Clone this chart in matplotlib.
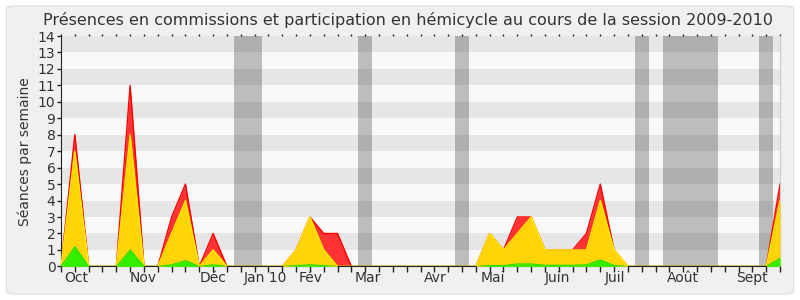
import matplotlib
matplotlib.use("Agg")
import matplotlib.pyplot as plt
from matplotlib.patches import FancyBboxPatch
import numpy as np

# Weekly values, session 2009-2010 (week 0 = start of October)
weeks = list(range(53))

# top of each stacked layer
red_top = [0, 8, 0, 0, 0, 11, 0, 0, 3, 5, 0, 2, 0, 0, 0, 0, 0, 1, 3, 2, 2, 0,
           0, 0, 0, 0, 0, 0, 0, 0, 0, 2, 1, 3, 3, 1, 1, 1, 2, 5, 1, 0,
           0, 0, 0, 0, 0, 0, 0, 0, 0, 0, 5]
yellow_top = [0, 7, 0, 0, 0, 8, 0, 0, 2, 4, 0, 1, 0, 0, 0, 0, 0, 1, 3, 1, 0, 0,
              0, 0, 0, 0, 0, 0, 0, 0, 0, 2, 1, 2, 3, 1, 1, 1, 1, 4, 1, 0,
              0, 0, 0, 0, 0, 0, 0, 0, 0, 0, 4]
green_top = [0, 1.2, 0, 0, 0, 1.0, 0, 0, 0.1, 0.35, 0, 0.1, 0, 0, 0, 0, 0, 0.05, 0.1, 0.05, 0, 0,
             0, 0, 0, 0, 0, 0, 0, 0, 0, 0.05, 0.05, 0.15, 0.15, 0.07, 0.07, 0.07, 0.1, 0.4, 0.05, 0,
             0, 0, 0, 0, 0, 0, 0, 0, 0, 0, 0.5]

# holiday weeks (shaded)
vacances = [(12.5, 14.5), (21.5, 22.5), (28.5, 29.5), (41.5, 42.5), (43.5, 47.5), (50.5, 51.5)]

month_labels = ["Oct", "Nov", "Déc", "Jan 10", "Fév", "Mar", "Avr", "Mai", "Juin", "Juil", "Août", "Sept"]
month_pos = [1.08, 5.93, 10.99, 14.75, 18.03, 22.2, 27.1, 31.2, 35.9, 40.03, 44.97, 49.96]

fig = plt.figure(figsize=(8, 3), dpi=100)
fig.patch.set_facecolor("white")
bg = FancyBboxPatch((0.008, 0.02), 0.984, 0.96, boxstyle="round,pad=0,rounding_size=0.01",
                    transform=fig.transFigure, facecolor="#f0f0f0", edgecolor="#e2e2e2",
                    linewidth=1, zorder=-10)
fig.patches.append(bg)

ax = fig.add_axes([0.07625, 0.112, 0.8988, 0.768])
ax.set_facecolor("#f9f9f9")

# alternating horizontal bands
for y in range(1, 14, 2):
    ax.axhspan(y, y + 1, color="#e6e6e6", zorder=0, lw=0)

for a, b in vacances:
    ax.axvspan(a, b, color="black", alpha=0.24, zorder=1, lw=0)

ax.fill_between(weeks, 0, red_top, color="#ff3333", lw=0, zorder=2)
ax.plot(weeks, red_top, color="#ff0000", lw=1, zorder=2.5)
ax.fill_between(weeks, 0, yellow_top, color="#ffd50a", lw=0, zorder=3)
ax.plot(weeks, yellow_top, color="#ffee00", lw=1, zorder=3.5)
ax.fill_between(weeks, 0, green_top, color="#33ee00", lw=0, zorder=4)
ax.plot(weeks, green_top, color="#22dd00", lw=0.8, zorder=4.5)

ax.set_xlim(0, 52)
ax.set_ylim(0, 14)
ax.set_yticks(range(15))
ax.set_xticks(weeks)
ax.set_xticklabels([])
ax.set_xticks(month_pos, minor=True)
ax.set_xticklabels(month_labels, minor=True)
ax.tick_params(axis="x", which="major", length=4, width=1, color="#222222")
ax.tick_params(axis="x", which="minor", length=0, pad=3, labelsize=10, labelcolor="#333333")
ax.tick_params(axis="y", length=3, width=1, color="#222222", labelsize=10, labelcolor="#333333", pad=1)

top = ax.secondary_xaxis("top")
top.set_xticks(weeks)
top.set_xticklabels([])
top.tick_params(length=1.5, width=1, color="#222222")
top.spines["top"].set_visible(False)

for s in ["left", "bottom"]:
    ax.spines[s].set_color("#222222")
ax.spines["top"].set_visible(False)
ax.spines["right"].set_color("#cccccc")

ax.set_ylabel("Séances par semaine", fontsize=10, color="#333333", labelpad=4)
fig.text(0.51, 0.935, "Présences en commissions et participation en hémicycle au cours de la session 2009-2010",
         ha="center", va="center", fontsize=11.5, color="#333333")

fig.savefig("out.png", dpi=100, facecolor=fig.get_facecolor())
